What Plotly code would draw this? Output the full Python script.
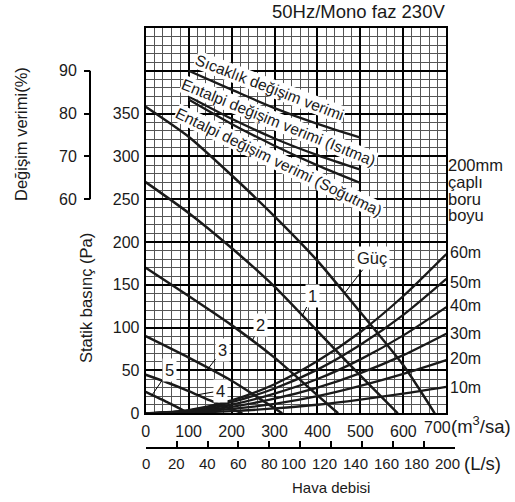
import numpy as np
import plotly.graph_objects as go

W, H = 515, 502
FONT = "Liberation Sans, Arial, Helvetica, sans-serif"
INK = "#1a1a1a"

# ---------------- data ----------------
flow_ticks = [0, 100, 200, 300, 400, 500, 600, 700]
flow_ticktext = ["0", "100", "200", "300", "400", "500", "600", "700"]
ls_ticks = [0, 20, 40, 60, 80, 100, 120, 140, 160, 180, 200]
ls_ticktext = ["0", "20", "40", "60", "80", "100", "120", "140", "160", "180", "200"]
pa_ticks = [0, 50, 100, 150, 200, 250, 300, 350, 400, 450]
pa_ticktext = ["0", "50", "100", "150", "200", "250", "300", "350", "", ""]
eff_ticks = [60, 70, 80, 90]
eff_ticktext = ["60", "70", "80", "90"]

# fan curves (m3/h, Pa)
guc_x = [0, 100, 200, 300, 400, 500, 600, 673]
guc_y = [358, 323, 278, 230, 178, 118, 56, 0]
n1_x = [0, 100, 200, 300, 400, 500, 587]
n1_y = [270, 234, 193, 148, 96, 44, 0]
n2_x = [0, 100, 200, 300, 400, 448]
n2_y = [170, 137, 103, 65, 21, 0]
n3_x = [0, 100, 200, 318]
n3_y = [90, 65, 38, 0]
n4_x = [0, 50, 100, 150, 225]
n4_y = [45, 36, 26, 15, 0]
n5_x = [0, 50, 100]
n5_y = [25, 13, 0]

# duct resistance curves (m3/h, Pa)
pipe_x = [0, 100, 200, 300, 400, 500, 600, 700]
pipe_10m = [0, 0.6, 2.5, 5.7, 10, 16, 23, 31]
pipe_20m = [0, 1.3, 5.1, 11, 20, 32, 46, 62]
pipe_30m = [0, 1.9, 7.6, 17, 30, 47, 68, 93]
pipe_40m = [0, 2.5, 10, 23, 40, 63, 91, 124]
pipe_50m = [0, 3.2, 13, 29, 51, 80, 115, 157]
pipe_60m = [0, 3.8, 15, 34, 61, 95, 137, 186]
pipe_labels = ["10m", "20m", "30m", "40m", "50m", "60m"]

# exchange efficiency (m3/h, %)
eff_x = [100, 200, 300, 400, 500]
eff_sicaklik = [90.0, 85.6, 81.3, 77.6, 74.4]
eff_isitma = [84.0, 78.8, 74.2, 70.3, 66.9]
eff_sogutma = [83.3, 77.6, 72.5, 67.9, 63.8]

# ---------------- geometry (pixels) ----------------
PX_X0, PX_X1 = 145.7, 446.3
PX_YT, PX_YB = 28.0, 413.3
PX_LS = 446.7
X_MAX, Y_MAX = 700, 450
LS_PER_M3H = 1 / 3.6


def fx(px):
    return px / W


def fy(py):
    return 1 - py / H


fig = go.Figure()

for xs, ys in [(guc_x, guc_y), (n1_x, n1_y), (n2_x, n2_y), (n3_x, n3_y), (n4_x, n4_y), (n5_x, n5_y)]:
    fig.add_trace(go.Scatter(x=xs, y=ys, mode="lines",
                             line=dict(shape="spline", smoothing=0.6, color=INK, width=2.5),
                             hoverinfo="skip", showlegend=False))

for ys in [pipe_10m, pipe_20m, pipe_30m, pipe_40m, pipe_50m, pipe_60m]:
    fig.add_trace(go.Scatter(x=pipe_x, y=ys, mode="lines",
                             line=dict(shape="spline", smoothing=0.8, color=INK, width=2.3),
                             hoverinfo="skip", showlegend=False))

for ys in [eff_sicaklik, eff_isitma, eff_sogutma]:
    fig.add_trace(go.Scatter(x=eff_x, y=ys, yaxis="y2", mode="lines",
                             line=dict(shape="spline", smoothing=0.8, color=INK, width=2.3),
                             hoverinfo="skip", showlegend=False))

# invisible trace that carries the L/s axis (own thin subplot below the chart)
fig.add_trace(go.Scatter(x=[ls_ticks[0]], y=[0.5], xaxis="x2", yaxis="y3", mode="markers",
                         marker=dict(opacity=0), hoverinfo="skip", showlegend=False))

tickfont = dict(family=FONT, size=16, color=INK)

fig.update_layout(
    width=W, height=H, autosize=False,
    margin=dict(l=0, r=0, t=0, b=0),
    paper_bgcolor="white", plot_bgcolor="rgba(0,0,0,0)",
    showlegend=False,
    xaxis=dict(
        domain=[fx(PX_X0), fx(PX_X1)], range=[0, X_MAX],
        tickvals=flow_ticks[:-1], ticktext=flow_ticktext[:-1], ticks="", tickfont=tickfont,
        showgrid=True, gridcolor="#000", gridwidth=2,
        minor=dict(dtick=20, showgrid=True, gridcolor="#555", gridwidth=1),
        showline=True, linecolor="#000", linewidth=2, mirror=True,
        zeroline=False, automargin=False, ticklabelstandoff=2,
    ),
    yaxis=dict(
        domain=[fy(PX_YB), fy(PX_YT)], range=[0, Y_MAX],
        tickvals=pa_ticks, ticktext=pa_ticktext, ticks="", tickfont=tickfont,
        showgrid=True, gridcolor="#000", gridwidth=2,
        minor=dict(dtick=10, showgrid=True, gridcolor="#555", gridwidth=1),
        showline=True, linecolor="#000", linewidth=2, mirror=True,
        zeroline=False, automargin=False, ticklabelstandoff=1,
    ),
    yaxis2=dict(
        overlaying="y", anchor="free", position=fx(90), side="left",
        range=[60 - 250 / 5, 60 + (Y_MAX - 250) / 5],
        tickvals=eff_ticks, ticktext=eff_ticktext, ticks="outside", ticklen=6, tickwidth=2,
        tickcolor="#000", tickfont=tickfont, showgrid=False, zeroline=False,
        showline=False, automargin=False, ticklabelstandoff=4,
    ),
    xaxis2=dict(
        domain=[fx(PX_X0), fx(PX_X0 + (ls_ticks[-1] / LS_PER_M3H) / X_MAX * (PX_X1 - PX_X0))],
        range=[ls_ticks[0], ls_ticks[-1]], anchor="y3", side="bottom",
        tickvals=ls_ticks, ticks="inside", ticklen=6, tickwidth=2,
        tickcolor="#000", showticklabels=False, showgrid=False, zeroline=False,
        showline=True, linecolor="#000", linewidth=2, automargin=False,
    ),
    yaxis3=dict(domain=[fy(PX_LS), fy(PX_LS - 8)], range=[0, 1], visible=False, anchor="x2",
                showgrid=False),
)

# last flow label sits left of its gridline, next to the unit
fig.add_annotation(x=flow_ticks[-1], y=0, xref="x", yref="y", text=flow_ticktext[-1], showarrow=False,
                   xanchor="center", yanchor="top", xshift=-9, yshift=-4,
                   font=dict(family=FONT, size=16, color=INK))

# L/s tick labels (three-digit labels sit slightly left of their ticks)
for v, t in zip(ls_ticks, ls_ticktext):
    fig.add_annotation(x=v, y=fy(463), xref="x2", yref="paper", text=t, showarrow=False,
                       xanchor="center", yanchor="middle", xshift=-7 if len(t) == 3 else 0,
                       font=dict(family=FONT, size=15, color=INK))

# efficiency axis line (only 60-90 %)
fig.add_shape(type="line", xref="paper", yref="y2", x0=fx(90), x1=fx(90), y0=eff_ticks[0], y1=eff_ticks[-1],
              line=dict(color="#000", width=2))


def add_text(text, px, py, size=16, angle=0, xanchor="center", bg=None):
    fig.add_annotation(text=text, x=fx(px), y=fy(py), xref="paper", yref="paper", showarrow=False,
                       xanchor=xanchor, yanchor="middle", textangle=angle,
                       font=dict(family=FONT, size=size, color=INK),
                       bgcolor=bg, borderpad=0)


add_text("50Hz/Mono faz 230V", 358.5, 12, size=18.5)
add_text("Değişim verimi(%)", 21, 134, size=16.5, angle=-90)
add_text("Statik basınç (Pa)", 86, 298, size=16.5, angle=-90)
add_text("Hava debisi", 331, 487, size=15)
add_text("(m<sup>3</sup>/sa)", 450, 425, size=18.5, xanchor="left")
add_text("(L/s)", 463, 463, size=18.5, xanchor="left")

for txt, py in zip(["200mm", "çaplı", "boru", "boyu"], [165.5, 182, 199, 215]):
    add_text(txt, 447, py, size=16.5, xanchor="left")

for txt, py in zip(pipe_labels, [387, 358, 333, 305, 282, 252]):
    add_text(txt, 449, py, size=16, xanchor="left")

# rotated efficiency labels
add_text("Sıcaklık değişim verimi", 270, 87, size=15.5, angle=21, bg="white")
add_text("Entalpi değişim verimi (Isıtma)", 279, 122, size=15.5, angle=22, bg="white")
add_text("Entalpi değişim verimi (Soğutma)", 278, 162, size=15.5, angle=26, bg="white")

# notch labels with leader lines
notch = [
    ("Güç", guc_x, guc_y, 463, 27, -35),
    ("1", n1_x, n1_y, 365, 10, -20),
    ("2", n2_x, n2_y, 248, 8, -16),
    ("3", n3_x, n3_y, 146, 14, -18),
    ("4", n4_x, n4_y, 120, 23, -4),
    ("5", n5_x, n5_y, 15, 17, -25),
]
for txt, xs, ys, xt, ax, ay in notch:
    fig.add_annotation(x=xt, y=float(np.interp(xt, xs, ys)), xref="x", yref="y", text=txt,
                       showarrow=True, arrowhead=0, arrowwidth=1, arrowcolor="#000",
                       ax=ax, ay=ay, standoff=0, bgcolor="white", borderpad=2,
                       font=dict(family=FONT, size=16.5, color=INK))

fig.write_html("out.html", config={"displayModeBar": False, "staticPlot": True},
               post_script="document.body.style.margin='0px';")
